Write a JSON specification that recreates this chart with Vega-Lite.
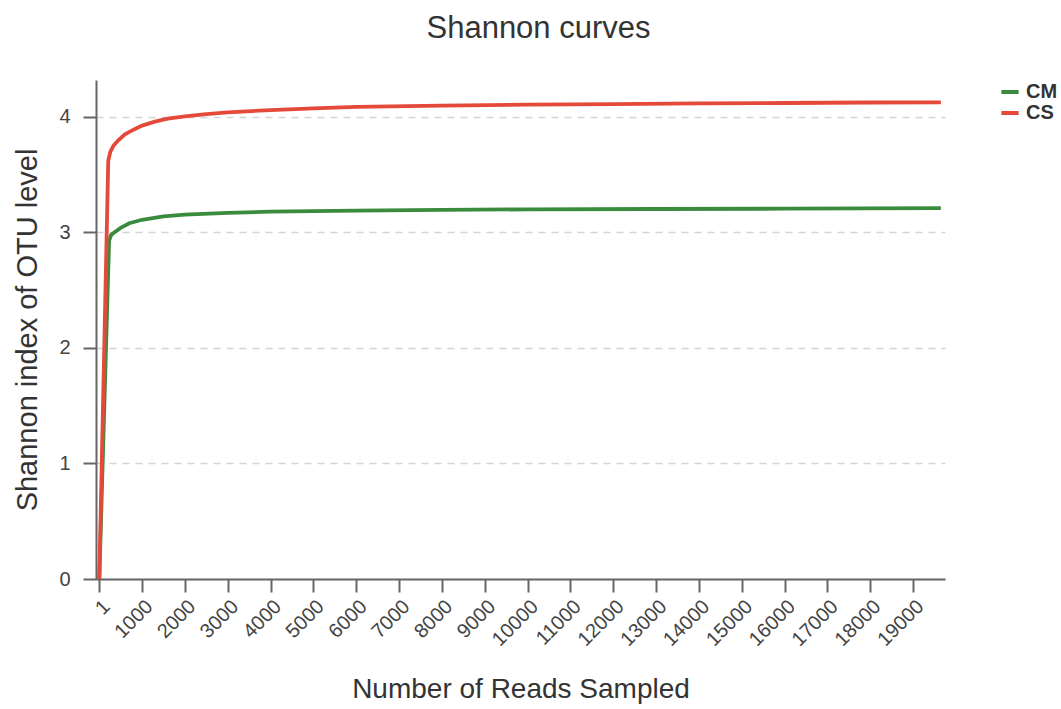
{
  "$schema": "https://vega.github.io/schema/vega-lite/v6.json",
  "width": 849,
  "height": 499,
  "autosize": "none",
  "padding": {"left": 96, "top": 80, "right": 116, "bottom": 130},
  "background": "white",
  "title": {
    "text": "Shannon curves",
    "fontSize": 31,
    "fontWeight": "normal",
    "font": "Liberation Sans",
    "color": "#333333",
    "baseline": "alphabetic",
    "offset": 11,
    "dx": 18
  },
  "config": {
    "view": {"stroke": null},
    "font": "Liberation Sans"
  },
  "data": {
    "values": [
      {"reads": 1, "shannon": 0, "sample": "CM"},
      {"reads": 230, "shannon": 2.93, "sample": "CM"},
      {"reads": 280, "shannon": 2.98, "sample": "CM"},
      {"reads": 350, "shannon": 3.0, "sample": "CM"},
      {"reads": 500, "shannon": 3.04, "sample": "CM"},
      {"reads": 700, "shannon": 3.08, "sample": "CM"},
      {"reads": 1000, "shannon": 3.11, "sample": "CM"},
      {"reads": 1500, "shannon": 3.14, "sample": "CM"},
      {"reads": 2000, "shannon": 3.155, "sample": "CM"},
      {"reads": 3000, "shannon": 3.17, "sample": "CM"},
      {"reads": 4000, "shannon": 3.18, "sample": "CM"},
      {"reads": 6000, "shannon": 3.19, "sample": "CM"},
      {"reads": 8000, "shannon": 3.196, "sample": "CM"},
      {"reads": 10000, "shannon": 3.2, "sample": "CM"},
      {"reads": 13000, "shannon": 3.203, "sample": "CM"},
      {"reads": 16000, "shannon": 3.206, "sample": "CM"},
      {"reads": 19650, "shannon": 3.21, "sample": "CM"},
      {"reads": 1, "shannon": 0, "sample": "CS"},
      {"reads": 210, "shannon": 3.62, "sample": "CS"},
      {"reads": 260, "shannon": 3.7, "sample": "CS"},
      {"reads": 330, "shannon": 3.75, "sample": "CS"},
      {"reads": 450, "shannon": 3.8, "sample": "CS"},
      {"reads": 600, "shannon": 3.85, "sample": "CS"},
      {"reads": 800, "shannon": 3.89, "sample": "CS"},
      {"reads": 1000, "shannon": 3.925, "sample": "CS"},
      {"reads": 1300, "shannon": 3.96, "sample": "CS"},
      {"reads": 1600, "shannon": 3.985, "sample": "CS"},
      {"reads": 2000, "shannon": 4.005, "sample": "CS"},
      {"reads": 2500, "shannon": 4.025, "sample": "CS"},
      {"reads": 3000, "shannon": 4.04, "sample": "CS"},
      {"reads": 4000, "shannon": 4.06, "sample": "CS"},
      {"reads": 5000, "shannon": 4.075, "sample": "CS"},
      {"reads": 6000, "shannon": 4.087, "sample": "CS"},
      {"reads": 8000, "shannon": 4.098, "sample": "CS"},
      {"reads": 10000, "shannon": 4.106, "sample": "CS"},
      {"reads": 12000, "shannon": 4.112, "sample": "CS"},
      {"reads": 14000, "shannon": 4.117, "sample": "CS"},
      {"reads": 16000, "shannon": 4.121, "sample": "CS"},
      {"reads": 18000, "shannon": 4.125, "sample": "CS"},
      {"reads": 19650, "shannon": 4.127, "sample": "CS"}
    ]
  },
  "mark": {"type": "line", "strokeWidth": 3.8, "clip": true},
  "encoding": {
    "x": {
      "field": "reads",
      "type": "quantitative",
      "scale": {"domain": [-76, 19747], "nice": false, "zero": false},
      "axis": {
        "title": "Number of Reads Sampled",
        "values": [1, 1000, 2000, 3000, 4000, 5000, 6000, 7000, 8000, 9000, 10000, 11000, 12000, 13000, 14000, 15000, 16000, 17000, 18000, 19000],
        "format": "d",
        "labelAngle": -45,
        "labelFontSize": 20,
        "labelColor": "#444444",
        "labelPadding": 4,
        "labelFlush": false,
        "labelOverlap": false,
        "grid": false,
        "domainColor": "#666666",
        "domainWidth": 2,
        "tickColor": "#666666",
        "tickWidth": 2,
        "tickSize": 13,
        "titleFontSize": 28,
        "titleFontWeight": "normal",
        "titleColor": "#333333",
        "titlePadding": 26
      }
    },
    "y": {
      "field": "shannon",
      "type": "quantitative",
      "scale": {"domain": [0, 4.32], "nice": false},
      "axis": {
        "title": "Shannon index of OTU level",
        "values": [0, 1, 2, 3, 4],
        "labelFontSize": 20,
        "labelColor": "#444444",
        "labelPadding": 13,
        "grid": true,
        "gridColor": "#d4d4d4",
        "gridWidth": 1.5,
        "gridDash": [7, 6],
        "domainColor": "#666666",
        "domainWidth": 2,
        "tickColor": "#666666",
        "tickWidth": 2,
        "tickSize": 13,
        "titleFontSize": 29,
        "titleFontWeight": "normal",
        "titleColor": "#333333",
        "titlePadding": 16
      }
    },
    "color": {
      "field": "sample",
      "type": "nominal",
      "scale": {"domain": ["CM", "CS"], "range": ["#3a8b3e", "#e5493a"]},
      "legend": {
        "title": null,
        "orient": "none",
        "legendX": 903,
        "legendY": 1,
        "padding": 0,
        "symbolType": "stroke",
        "symbolStrokeWidth": 4,
        "symbolSize": 300,
        "labelFontSize": 20,
        "labelFontWeight": "bold",
        "labelColor": "#333333",
        "labelOffset": 5,
        "rowPadding": 0
      }
    }
  }
}
